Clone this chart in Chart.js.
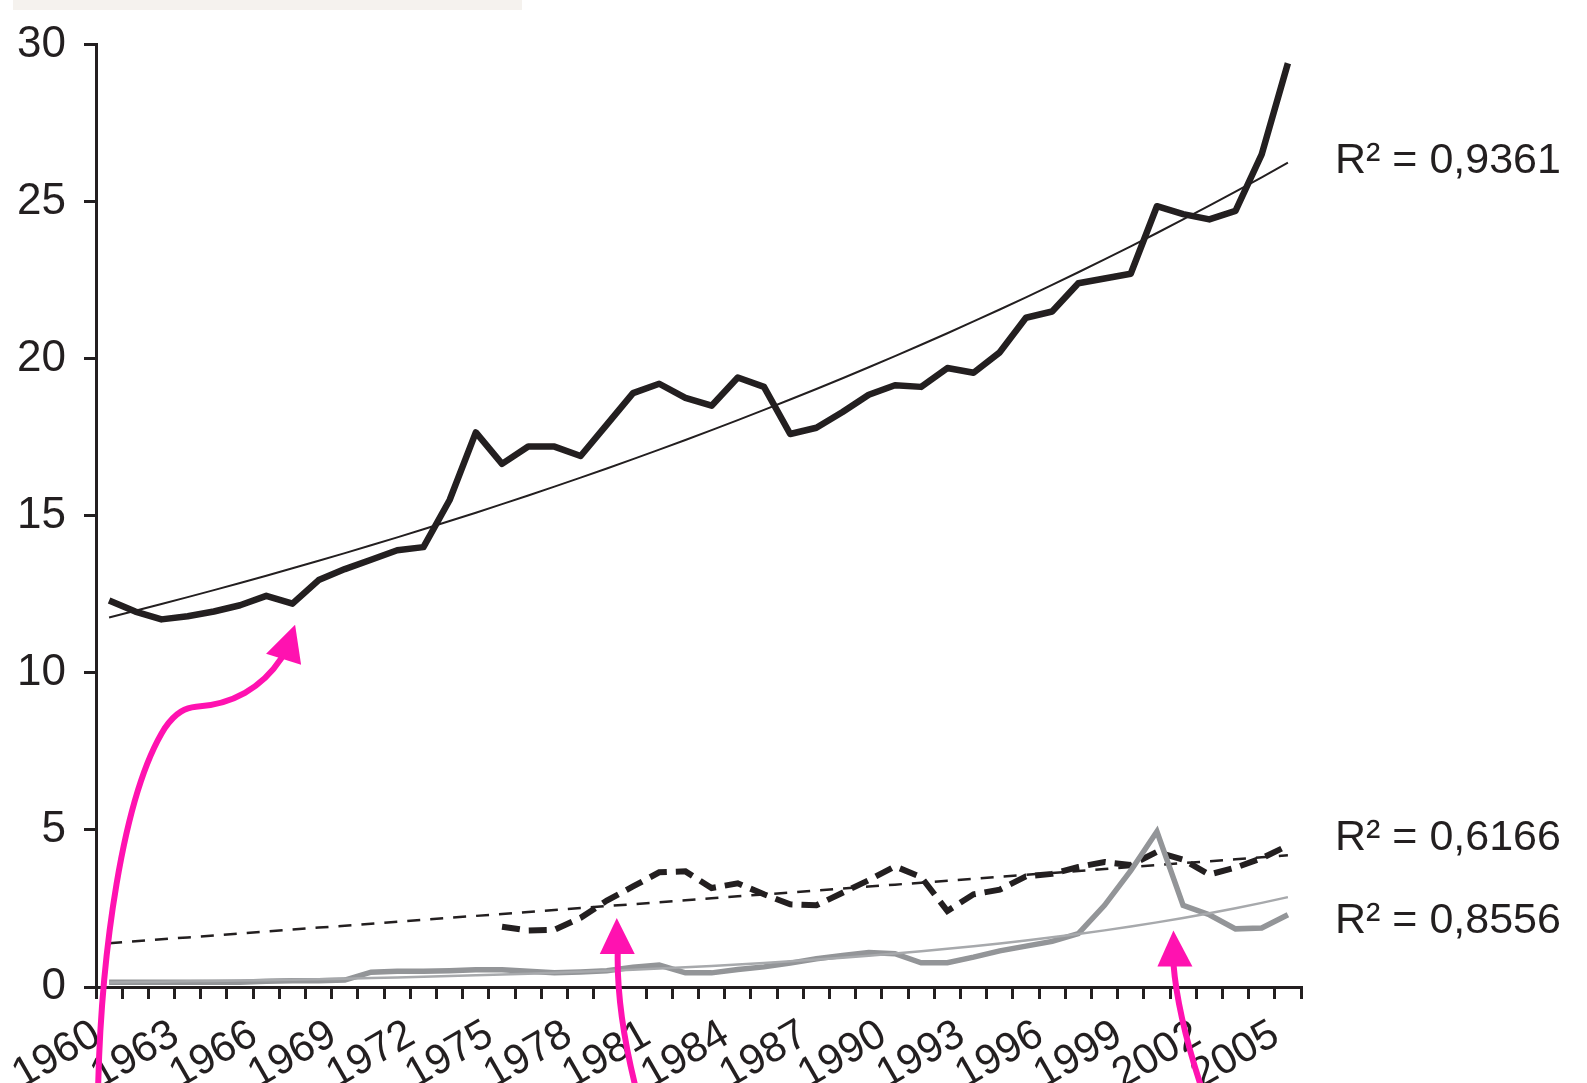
<!DOCTYPE html>
<html>
<head>
    <title>Trend chart</title>
    <script src="https://cdn.jsdelivr.net/npm/chart.js"></script>
    <style>
        body { margin: 0; background: #ffffff; }
        canvas { display: block; }
    </style>
</head>
<body>
    <canvas id="myChart" width="1587" height="1083"></canvas>

    <script>
        // years on the x axis (one category per year)
        const years = [];
        for (let y = 1960; y <= 2005; y++) years.push(String(y));

        // solid black series
        const mainValues = [
            12.3, 11.95, 11.7, 11.8, 11.95, 12.15, 12.45, 12.2, 12.95, 13.3,
            13.6, 13.9, 14.0, 15.5, 17.65, 16.65, 17.2, 17.2, 16.9, 17.9,
            18.9, 19.2, 18.75, 18.5, 19.4, 19.1, 17.6, 17.8, 18.3, 18.85,
            19.15, 19.1, 19.7, 19.55, 20.2, 21.3, 21.5, 22.4, 22.55, 22.7,
            24.85, 24.6, 24.43, 24.7, 26.5, 29.4
        ];

        // dashed black series (starts 1975)
        const dashedValues = [
            null, null, null, null, null, null, null, null, null, null,
            null, null, null, null, null, 1.92, 1.8, 1.82, 2.2, 2.75,
            3.2, 3.65, 3.68, 3.15, 3.3, 2.95, 2.63, 2.6, 3.0, 3.4,
            3.84, 3.5, 2.42, 2.95, 3.1, 3.52, 3.6, 3.82, 3.98, 3.88,
            4.3, 4.05, 3.58, 3.8, 4.1, 4.5
        ];

        // grey series
        const greyValues = [
            0.15, 0.15, 0.15, 0.15, 0.15, 0.15, 0.18, 0.2, 0.2, 0.22,
            0.47, 0.5, 0.5, 0.52, 0.55, 0.55, 0.5, 0.45, 0.48, 0.52,
            0.63, 0.7, 0.45, 0.45, 0.56, 0.64, 0.76, 0.9, 1.0, 1.1,
            1.06, 0.77, 0.77, 0.95, 1.15, 1.3, 1.45, 1.7, 2.6, 3.7,
            4.95, 2.6, 2.3, 1.85, 1.88, 2.3
        ];

        // R² labels: text and the y value (axis units) they sit at
        const r2Texts = ['R\u00b2 = 0,9361', 'R\u00b2 = 0,6166', 'R\u00b2 = 0,8556'];
        const r2Levels = [26.27, 4.74, 2.1];

        // pink arrows: tip in (category index, value), path in px relative to the tip
        const arrowTips = [[7.1, 11.53], [19.38, 2.2], [40.63, 1.8]];

        const INK = '#231f20';
        const GREY = '#939598';
        const PINK = '#ff12b0';

        function fitLine(values, useLog) {
            let n = 0, sx = 0, sy = 0, sxx = 0, sxy = 0;
            values.forEach((v, i) => {
                if (v === null) return;
                const y = useLog ? Math.log(v) : v;
                n++; sx += i; sy += y; sxx += i * i; sxy += i * y;
            });
            const b = (n * sxy - sx * sy) / (n * sxx - sx * sx);
            const a = (sy - b * sx) / n;
            return values.map((_, i) => useLog ? Math.exp(a + b * i) : a + b * i);
        }

        const mainTrend = fitLine(mainValues, true);
        const dashedTrend = fitLine(dashedValues, false);
        const greyTrend = fitLine(greyValues, true);

        const extras = {
            id: 'extras',
            beforeDraw(chart) {
                const c = chart.ctx;
                c.save();
                c.fillStyle = '#f5f2ee';
                c.fillRect(13, 0, 509, 10);
                c.restore();
            },
            afterDraw(chart) {
                const c = chart.ctx;
                const xs = chart.scales.x, ys = chart.scales.y;
                c.save();
                c.fillStyle = INK;
                c.font = '43px "Liberation Sans", Arial, sans-serif';
                c.textBaseline = 'middle';
                r2Texts.forEach((t, i) => {
                    c.fillText(t, chart.chartArea.right + 34, ys.getPixelForValue(r2Levels[i]));
                });

                const paths = [
                    { line: [[-197, 464], [-194, 331], [-173, 171], [-130, 103], [-119, 87], [-109, 83], [-99, 82], [-63, 80], [-33, 63], [-14, 34]],
                      head: [[0, 0], [-29, 29], [6, 40]] },
                    { line: [[18, 166], [5, 113], [0, 73], [1, 33]],
                      head: [[0, 0], [-17, 36], [18, 36]] },
                    { line: [[27, 154], [13, 111], [3, 71], [0, 33]],
                      head: [[0, 0], [-16, 36], [19, 36]] }
                ];
                c.strokeStyle = PINK;
                c.fillStyle = PINK;
                c.lineWidth = 6;
                c.lineCap = 'round';
                arrowTips.forEach((tip, k) => {
                    const tx = xs.getPixelForValue(tip[0]);
                    const ty = ys.getPixelForValue(tip[1]);
                    const p = paths[k].line;
                    c.beginPath();
                    c.moveTo(tx + p[0][0], ty + p[0][1]);
                    for (let j = 1; j + 2 < p.length; j += 3) {
                        c.bezierCurveTo(tx + p[j][0], ty + p[j][1], tx + p[j + 1][0], ty + p[j + 1][1], tx + p[j + 2][0], ty + p[j + 2][1]);
                    }
                    c.stroke();
                    const h = paths[k].head;
                    c.beginPath();
                    c.moveTo(tx + h[0][0], ty + h[0][1]);
                    c.lineTo(tx + h[1][0], ty + h[1][1]);
                    c.lineTo(tx + h[2][0], ty + h[2][1]);
                    c.closePath();
                    c.fill();
                });
                c.restore();
            }
        };

        var ctx = document.getElementById('myChart').getContext('2d');
        var myChart = new Chart(ctx, {
            type: 'line',
            data: {
                labels: years,
                datasets: [
                    { data: greyTrend, borderColor: '#a7a9ac', borderWidth: 2.5, pointRadius: 0, fill: false },
                    { data: greyValues, borderColor: GREY, borderWidth: 5.5, pointRadius: 0, fill: false },
                    { data: dashedTrend, borderColor: INK, borderWidth: 2.5, borderDash: [13, 10], pointRadius: 0, fill: false },
                    { data: dashedValues, borderColor: INK, borderWidth: 6, borderDash: [18, 9], pointRadius: 0, fill: false, spanGaps: false },
                    { data: mainTrend, borderColor: INK, borderWidth: 2, pointRadius: 0, fill: false },
                    { data: mainValues, borderColor: INK, borderWidth: 6.5, pointRadius: 0, fill: false, borderJoinStyle: 'round' }
                ]
            },
            options: {
                responsive: false,
                animation: false,
                devicePixelRatio: 1,
                layout: { padding: { left: 0, top: 28, right: 286, bottom: 0 } },
                plugins: { legend: { display: false }, tooltip: { enabled: false } },
                scales: {
                    x: {
                        offset: true,
                        afterFit: (s) => { s.height = 96; },
                        border: { display: true, color: INK, width: 3 },
                        grid: { offset: true, drawOnChartArea: false, drawTicks: true, tickLength: 12, color: INK, lineWidth: 3 },
                        ticks: {
                            autoSkip: false,
                            minRotation: 30,
                            maxRotation: 30,
                            padding: 11,
                            labelOffset: -12,
                            color: INK,
                            font: { family: '"Liberation Sans", Arial, sans-serif', size: 42 },
                            callback: function (val, index) {
                                return index % 3 === 0 ? this.getLabelForValue(val) : '';
                            }
                        }
                    },
                    y: {
                        min: 0,
                        max: 30,
                        afterFit: (s) => { s.width = 96; },
                        border: { display: true, color: INK, width: 3 },
                        grid: { drawOnChartArea: false, drawTicks: true, tickLength: 12, color: INK, lineWidth: 3 },
                        ticks: {
                            stepSize: 5,
                            padding: 18,
                            color: INK,
                            font: { family: '"Liberation Sans", Arial, sans-serif', size: 44 }
                        }
                    }
                }
            },
            plugins: [extras]
        });
    </script>
</body>
</html>
